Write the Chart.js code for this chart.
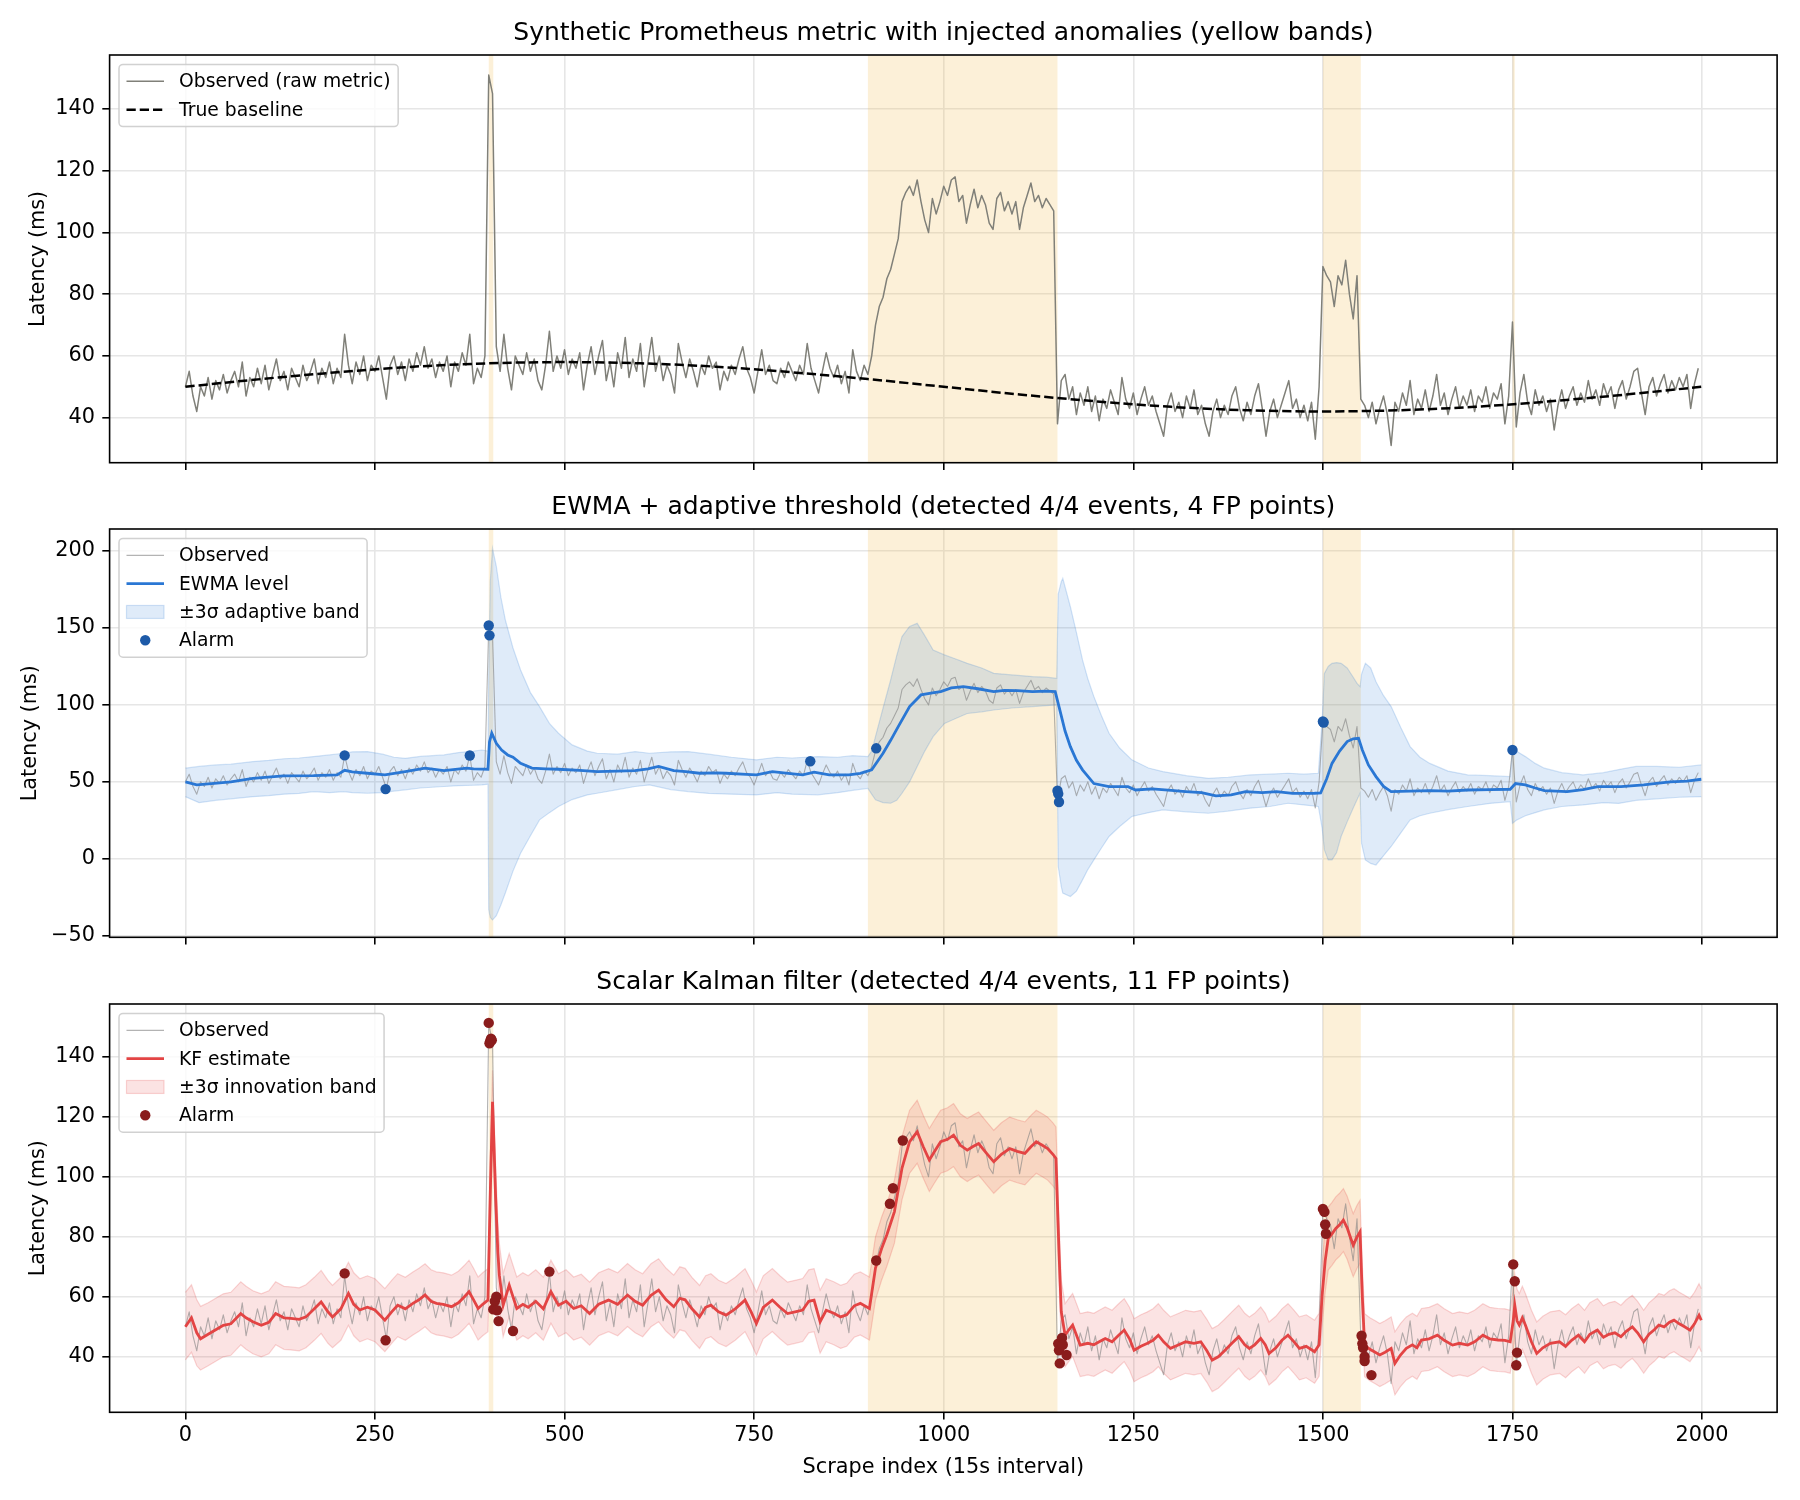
<!DOCTYPE html>
<html>
<head>
<meta charset="utf-8">
<title>Prometheus metric anomaly detection</title>
<script src="https://cdn.jsdelivr.net/npm/chart.js@4.4.1/dist/chart.umd.min.js"></script>
<style>
  html, body { margin: 0; padding: 0; background: #fff; }
  #wrap { position: relative; width: 1800px; height: 1500px; }
  canvas { position: absolute; left: 0; }
</style>
</head>
<body>
<div id="wrap">
  <canvas id="rawChart" width="1800" height="475" style="top:0px"></canvas>
  <canvas id="ewmaChart" width="1800" height="475" style="top:475px"></canvas>
  <canvas id="kfChart" width="1800" height="550" style="top:950px"></canvas>
</div>
<script>
const FONT = '"DejaVu Sans", "Liberation Sans", sans-serif';

// Axis ticks
const xTicks = [0, 250, 500, 750, 1000, 1250, 1500, 1750, 2000];
const rawTicks = [40, 60, 80, 100, 120, 140];
const ewmaTicks = [-50, 0, 50, 100, 150, 200];
const kfTicks = [40, 60, 80, 100, 120, 140];

// Injected anomaly windows (scrape index start, end)
const anomalyWindows = [[400, 406], [900, 1150], [1500, 1550], [1750, 1753]];

// Observed latency, one value every OBS_STEP scrapes
const OBS_STEP = 5;
const observed = [
    50, 55, 47, 42, 50, 47, 53, 46, 52, 49,
    54, 48, 52, 55, 50, 58, 47, 53, 50, 56,
    51, 57, 49, 54, 59, 52, 55, 49, 56, 53,
    50, 57, 52, 55, 59, 51, 56, 53, 58, 51,
    56, 53, 67, 57, 51, 58, 54, 60, 52, 57,
    55, 60, 53, 46, 57, 60, 54, 58, 52, 59,
    55, 61, 57, 63, 56, 59, 53, 58, 55, 60,
    50, 58, 55, 61, 57, 67, 51, 56, 53, 60,
    151, 145, 63, 55, 67, 56, 49, 60, 57, 54,
    61, 55, 59, 52, 49, 57, 68, 55, 60, 56,
    62, 54, 59, 56, 61, 49, 57, 63, 54, 60,
    65, 52, 58, 50, 61, 56, 66, 53, 59, 55,
    64, 50, 58, 66, 55, 60, 52, 57, 54, 48,
    64, 58, 53, 59, 55, 50, 57, 54, 60, 56,
    58, 49, 55, 52, 57, 54, 59, 63, 56, 53,
    48, 55, 62, 54, 57, 52, 51, 56, 53, 58,
    55, 52, 57, 54, 64, 56, 52, 48, 55, 61,
    56, 53, 57, 51, 55, 48, 62, 55, 52, 57,
    54, 60, 70, 76, 79, 85, 88, 93, 98, 110,
    113, 115, 112, 117, 110, 104, 100, 111, 106, 110,
    115, 112, 117, 118, 110, 112, 103, 109, 114, 108,
    112, 109, 103, 101, 111, 113, 107, 110, 106, 110,
    101, 108, 112, 116, 110, 112, 108, 111, 109, 107,
    38, 52, 54, 46, 50, 41, 48, 44, 50, 42,
    47, 39, 46, 43, 49, 45, 41, 53, 46, 43,
    48, 41, 46, 50, 44, 47, 42, 38, 34, 44,
    48, 42, 45, 40, 47, 43, 49, 41, 44, 38,
    34, 42, 46, 40, 44, 41, 47, 50, 43, 39,
    45, 41, 47, 51, 43, 34, 42, 46, 40, 44,
    48, 52, 43, 46, 40, 44, 39, 45, 33, 50,
    89, 86, 84, 76, 86, 83, 91, 80, 72, 86,
    46, 44, 40, 45, 38, 43, 47, 41, 31, 45,
    42, 48, 44, 52, 41, 46, 43, 49, 42, 47,
    54, 44, 48, 41, 46, 50, 43, 47, 44, 49,
    42, 47, 45, 50, 43, 48, 46, 51, 38, 47,
    71, 37, 48, 54, 45, 41, 49, 44, 47, 42,
    46, 36, 44, 49, 43, 47, 50, 44, 48, 45,
    52, 46, 49, 44, 51, 47, 50, 43, 49, 52,
    46, 50, 55, 56, 48, 41, 50, 53, 47, 51,
    54, 48, 52, 49, 53, 50, 54, 43, 51, 56
];

// True baseline [index, ms]
const baseline = [
    [0, 50], [100, 52.5], [200, 54.7], [300, 56.5], [400, 57.6], [500, 58], [600, 57.6],
    [700, 56.5], [800, 54.7], [900, 52.5], [1000, 50], [1100, 47.5], [1200, 45.3],
    [1300, 43.5], [1400, 42.4], [1500, 42], [1600, 42.4], [1700, 43.5], [1800, 45.3],
    [1900, 47.5], [1999, 50]
];

// EWMA level [index, ms]
const ewmaLevel = [
    [0, 50], [15, 48], [38, 49], [60, 50], [89, 52.3], [129, 53.9], [169, 54], [200, 54.5],
    [210, 57.5], [220, 56.5], [240, 55.6], [263, 54.5], [290, 56.7], [316, 58.9], [341, 57.3],
    [371, 58.9], [380, 58.5], [399, 58.2], [401, 76], [404, 81.6], [410, 75], [417, 70.7],
    [425, 67.5], [432, 66], [442, 62], [457, 58.9], [475, 58.5], [492, 58.2], [520, 57.5],
    [543, 56.7], [570, 57], [593, 57.3], [610, 58.5], [624, 60], [644, 57.3], [660, 56.7],
    [678, 55.6], [700, 55.8], [713, 55.6], [740, 54.8], [753, 54.5], [774, 56.7], [795, 55.5],
    [814, 54.5], [829, 56.3], [849, 54.5], [875, 54.5], [890, 55.5], [905, 57.8], [920, 68.6],
    [930, 77], [940, 85.9], [955, 98.9], [970, 106.5], [985, 107.8], [996, 108.6], [1010, 111],
    [1026, 111.9], [1045, 110.5], [1066, 108.6], [1080, 109.5], [1097, 109.3], [1117, 108.6],
    [1135, 109], [1147, 108.6], [1152, 98.9], [1160, 83], [1167, 72.9], [1175, 64], [1183, 57.8],
    [1198, 48.9], [1218, 46.9], [1243, 46.9], [1253, 44.7], [1275, 45.5], [1300, 44.5],
    [1319, 43.7], [1340, 43], [1359, 40.9], [1379, 41.5], [1398, 43.7], [1420, 43], [1439, 43.7],
    [1460, 42.5], [1489, 42.6], [1497, 42.8], [1505, 52], [1512, 62], [1522, 70], [1532, 76.2],
    [1540, 78], [1547, 78.3], [1552, 70.7], [1560, 61], [1570, 53.4], [1580, 47], [1590, 43.7],
    [1615, 44], [1641, 44.3], [1665, 44], [1691, 44.7], [1720, 45], [1747, 45.2], [1754, 48.9],
    [1767, 48], [1780, 46], [1792, 44.3], [1822, 43.7], [1843, 45], [1863, 46.9], [1893, 46.9],
    [1923, 48], [1940, 49], [1958, 50], [1980, 50.5], [1999, 51.7]
];

// EWMA adaptive band [index, lower, upper]
const ewmaBand = [
    [0, 40.4, 58.9], [18, 36.5, 60], [40, 38, 61], [60, 39, 61.5], [89, 40.4, 63.2], [110, 41, 64],
    [130, 42, 65], [150, 42.5, 65.5], [169, 43.7, 66.4], [190, 43, 67.5], [209, 43.7, 68.6],
    [220, 43, 69.5], [240, 42.6, 69.7], [260, 43, 68], [275, 44, 66], [290, 44.8, 65.3],
    [310, 46, 66.5], [341, 47, 67.5], [360, 47.5, 69], [380, 47.8, 70], [391, 48, 70.7],
    [399, 48.5, 70], [400, -33, 120], [402, -38, 180], [405, -39.7, 201.7], [410, -37, 190],
    [416, -30, 170], [422, -22, 155], [432, -8, 137], [442, 3.6, 122.7], [455, 15, 108],
    [467, 25.3, 98.9], [480, 30, 88], [492, 34, 81.6], [510, 38.5, 74], [530, 41.5, 70],
    [543, 42.6, 68.6], [570, 45, 68], [593, 47, 69.7], [612, 48, 68.6], [640, 45, 69.5],
    [663, 43.7, 69.7], [690, 42.5, 68], [720, 42, 66], [753, 41.5, 64.3], [780, 43, 66],
    [800, 42, 65.5], [834, 41.6, 66.4], [860, 43, 66], [880, 44.5, 67], [900, 45.8, 66.4],
    [905, 42, 70], [910, 38.3, 79.4], [920, 36.5, 98], [930, 36.1, 116.2], [938, 38, 132],
    [945, 42.6, 144.4], [955, 50, 151], [965, 60, 153], [975, 70, 145], [986, 79.4, 135.7],
    [1001, 88, 132.5], [1015, 91, 130], [1031, 94.4, 127], [1050, 95.5, 124], [1066, 96.7, 120.5],
    [1090, 98, 119.5], [1117, 98.9, 118.4], [1135, 99.5, 118], [1149, 100, 117.3],
    [1151, -5, 172], [1155, -18, 180], [1157, -22.3, 182.2], [1167, -24.5, 163.8],
    [1175, -21, 147], [1183, -13.7, 129.2], [1190, -7, 117], [1198, -0.7, 105.4], [1208, 7, 93],
    [1218, 14.5, 81.6], [1232, 21, 72], [1248, 27.5, 64.3], [1270, 30, 59], [1289, 31.8, 56.7],
    [1320, 30.5, 54], [1349, 29.6, 52.3], [1375, 31, 53], [1404, 32.9, 54.5], [1430, 34, 55],
    [1454, 36.1, 55.6], [1475, 35, 55], [1494, 34, 55.6], [1499, 20, 90], [1502, 5.8, 120.5],
    [1507, -0.7, 125], [1512, -0.7, 127], [1518, 4, 127.5], [1524, 14.5, 127], [1532, 24, 124],
    [1540, 33, 118], [1545, 38.3, 114], [1549, 42.6, 111.9], [1551, 10, 120], [1556, -0.7, 127],
    [1563, -3, 124], [1570, -4, 115], [1580, 2, 106], [1590, 8, 98.9], [1603, 17, 85],
    [1615, 25.3, 72.9], [1628, 28, 66], [1641, 29.6, 62], [1665, 32, 57], [1691, 34, 54.5],
    [1720, 36, 54], [1747, 37.2, 53.4], [1750, 23.1, 70.7], [1755, 25, 70], [1767, 28, 66.4],
    [1780, 30, 62], [1792, 31.8, 58.9], [1815, 34, 56], [1843, 35, 54.5], [1870, 36.5, 56],
    [1890, 36, 58], [1913, 38, 60], [1940, 39, 60], [1970, 40, 59.5], [1999, 40.4, 61]
];

const ewmaAlarms = [
    [210, 67.2], [264, 45.3], [375, 67.1], [400, 151.6], [401, 145.2], [824, 63.4], [911, 71.8],
    [1150, 44.3], [1151, 42.2], [1152, 36.9], [1500, 89.2], [1501, 88.6], [1750, 70.7]
];

// Kalman filter estimate [index, ms]
const kfEstimate = [
    [0, 50], [8, 53], [15, 48], [20, 46], [30, 47.5], [40, 49], [50, 50.5], [60, 51], [73, 54.4],
    [80, 53], [89, 51.7], [100, 50.5], [110, 51.5], [119, 54.4], [130, 53], [139, 52.8], [150, 52.5],
    [159, 53.3], [170, 56], [179, 58.3], [188, 55], [194, 53.3], [205, 56], [215, 61.1], [222, 57.5],
    [230, 55.6], [240, 56.5], [250, 55.6], [263, 52.2], [272, 55], [280, 57.2], [290, 56],
    [300, 57.8], [308, 59], [316, 60.6], [324, 58.5], [331, 57.8], [340, 57.5], [351, 56.7],
    [360, 58], [368, 60], [374, 61.7], [380, 59], [386, 56.1], [392, 57.5], [399, 58.9],
    [402, 93.9], [405, 125], [407, 110], [409, 93.9], [412, 75], [414, 67.2], [419, 57.2],
    [427, 63.9], [437, 56.1], [445, 57.5], [452, 56.5], [462, 58.5], [472, 56], [482, 61.7],
    [492, 57.2], [502, 58.5], [512, 56.1], [522, 57], [533, 54.4], [545, 57.5], [558, 58.9],
    [570, 57.5], [583, 60.6], [593, 58.5], [603, 57.2], [614, 60.5], [624, 62.2], [634, 59],
    [644, 56.7], [652, 59.5], [659, 59], [668, 56], [678, 53.3], [686, 56.5], [693, 57.2],
    [703, 55], [713, 53.9], [725, 56], [738, 58.9], [746, 55], [753, 51.1], [762, 56.5],
    [774, 58.9], [784, 56.5], [794, 54.4], [804, 55], [814, 55.6], [822, 58.5], [829, 58.9],
    [837, 51.7], [845, 55.5], [855, 54.5], [864, 53.3], [872, 54], [882, 57], [890, 57.8],
    [902, 56.1], [910, 69.6], [918, 76], [925, 80.7], [935, 88.4], [945, 102.9], [955, 111.7],
    [965, 115], [973, 110], [981, 105.6], [988, 108.5], [996, 111.7], [1005, 112.5], [1013, 113.9],
    [1022, 110.5], [1031, 108.9], [1038, 110], [1046, 111.1], [1056, 108], [1066, 105],
    [1076, 107.5], [1087, 109.4], [1097, 108.5], [1107, 107.8], [1115, 110], [1122, 111.7],
    [1130, 110.5], [1137, 109.4], [1144, 107.5], [1148, 106.1], [1152, 75], [1155, 55],
    [1160, 47.2], [1165, 49], [1170, 50.6], [1180, 43.9], [1190, 44.5], [1198, 44], [1205, 45],
    [1213, 46.1], [1222, 45], [1230, 47], [1238, 48.9], [1245, 46], [1251, 42.2], [1260, 43.5],
    [1268, 44.4], [1276, 45.5], [1283, 47.2], [1290, 45], [1299, 42.8], [1310, 44], [1319, 45],
    [1330, 44.5], [1339, 45], [1347, 42], [1354, 38.9], [1362, 40], [1369, 41.7], [1380, 44.5],
    [1389, 46.7], [1397, 44], [1403, 42.8], [1410, 44], [1418, 46.1], [1424, 44], [1429, 41.1],
    [1438, 43], [1446, 45.5], [1454, 47.2], [1462, 45], [1469, 42.8], [1478, 43.5], [1489, 41.7],
    [1495, 44], [1499, 60.6], [1503, 72], [1507, 79.4], [1512, 81], [1517, 82.8], [1522, 84],
    [1527, 85.6], [1532, 83], [1536, 80], [1540, 77.2], [1545, 80], [1549, 81.7], [1552, 60],
    [1555, 43.9], [1562, 42.5], [1569, 41.5], [1575, 40.6], [1582, 41.5], [1590, 42.8],
    [1595, 37.8], [1602, 40.5], [1610, 42.8], [1618, 44], [1624, 43], [1630, 45.6], [1640, 46],
    [1651, 47.2], [1660, 45.5], [1671, 43.9], [1680, 44.5], [1691, 43.9], [1700, 45], [1711, 47.2],
    [1720, 46], [1731, 45.6], [1740, 45.5], [1747, 45], [1751, 52], [1753, 57.2], [1756, 52],
    [1759, 50.6], [1763, 53], [1767, 50.6], [1775, 45], [1782, 41.1], [1790, 43], [1800, 44.5],
    [1812, 45], [1820, 43.5], [1828, 45.5], [1837, 47.2], [1845, 45], [1852, 47.5], [1862, 48.9],
    [1870, 46.5], [1877, 47.5], [1885, 48], [1893, 46.7], [1900, 48.5], [1908, 50], [1915, 48],
    [1923, 45], [1930, 47.5], [1937, 49], [1943, 50.6], [1950, 50], [1957, 51.5], [1963, 52.2],
    [1970, 51], [1977, 50], [1984, 48.9], [1990, 51], [1996, 53.9], [1999, 52.2]
];

// Kalman innovation band [index, lower, upper]
const kfBand = [
    [0, 39, 61.5], [8, 41.5, 64], [15, 37, 59], [20, 35.6, 56.8], [30, 37, 58], [40, 38.5, 59.5],
    [50, 40, 61], [60, 40.5, 61.5], [73, 44, 65], [80, 42.5, 63.5], [89, 41, 62], [100, 40, 61],
    [110, 41, 62], [119, 44, 65], [130, 42.5, 63.5], [139, 42.3, 63.3], [150, 42, 63], [159, 43, 64],
    [170, 45.5, 66.5], [179, 47.8, 68.8], [188, 44.5, 65.5], [194, 43, 63.8], [205, 45.5, 66.5],
    [215, 50.5, 71.5], [222, 47, 68], [230, 45, 66], [240, 46, 67], [250, 45, 66], [263, 41.7, 62.7],
    [272, 44.5, 65.5], [280, 46.7, 67.7], [290, 45.5, 66.5], [300, 47.3, 68.3], [308, 48.5, 69.5],
    [316, 50, 71], [324, 48, 69], [331, 47.3, 68.3], [340, 47, 68], [351, 46.2, 67.2], [360, 47.5, 68.5],
    [368, 49.5, 70.5], [374, 51.2, 72.2], [380, 48.5, 69.5], [386, 45.6, 66.6], [392, 47, 68],
    [399, 48.4, 69.4], [402, 83, 104.5], [405, 114.5, 135.5], [407, 99.5, 120.5], [409, 83.4, 104.4],
    [412, 64.5, 85.5], [414, 56.7, 77.7], [419, 46.7, 67.7], [427, 53.4, 74.4], [437, 45.6, 66.6],
    [445, 47, 68], [452, 46, 67], [462, 48, 69], [472, 45.5, 66.5], [482, 51.2, 72.2], [492, 46.7, 67.7],
    [502, 48, 69], [512, 45.6, 66.6], [522, 46.5, 67.5], [533, 43.9, 64.9], [545, 47, 68],
    [558, 48.4, 69.4], [570, 47, 68], [583, 50.1, 71.1], [593, 48, 69], [603, 46.7, 67.7],
    [614, 50, 71], [624, 51.7, 72.7], [634, 48.5, 69.5], [644, 46.2, 67.2], [652, 49, 70],
    [659, 48.5, 69.5], [668, 45.5, 66.5], [678, 42.8, 63.8], [686, 46, 67], [693, 46.7, 67.7],
    [703, 44.5, 65.5], [713, 43.4, 64.4], [725, 45.5, 66.5], [738, 48.4, 69.4], [746, 44.5, 65.5],
    [753, 40.6, 61.6], [762, 46, 67], [774, 48.4, 69.4], [784, 46, 67], [794, 43.9, 64.9],
    [804, 44.5, 65.5], [814, 45.1, 66.1], [822, 48, 69], [829, 48.4, 69.4], [837, 41.2, 62.2],
    [845, 45, 66], [855, 44, 65], [864, 42.8, 63.8], [872, 43.5, 64.5], [882, 46.5, 67.5],
    [890, 47.3, 68.3], [902, 45.6, 66.6], [910, 59, 80], [918, 65.5, 86.5], [925, 70.2, 91.2],
    [935, 77.9, 98.9], [945, 92.4, 113.4], [955, 101.2, 122.2], [965, 104.5, 125.5], [973, 99.5, 120.5],
    [981, 95.1, 116.1], [988, 98, 119], [996, 101.2, 122.2], [1005, 102, 123], [1013, 103.4, 124.4],
    [1022, 100, 121], [1031, 98.4, 119.4], [1038, 99.5, 120.5], [1046, 100.6, 121.6], [1056, 97.5, 118.5],
    [1066, 94.5, 115.5], [1076, 97, 118], [1087, 98.9, 119.9], [1097, 98, 119], [1107, 97.3, 118.3],
    [1115, 99.5, 120.5], [1122, 101.2, 122.2], [1130, 100, 121], [1137, 98.9, 119.9], [1144, 97, 118],
    [1148, 95.6, 116.6], [1152, 64.5, 85.5], [1155, 44.5, 65.5], [1160, 36.7, 57.7], [1165, 38.5, 59.5],
    [1170, 40.1, 61.1], [1180, 33.4, 54.4], [1190, 34, 55], [1198, 33.5, 54.5], [1205, 34.5, 55.5],
    [1213, 35.6, 56.6], [1222, 34.5, 55.5], [1230, 36.5, 57.5], [1238, 38.4, 59.4], [1245, 35.5, 56.5],
    [1251, 31.7, 52.7], [1260, 33, 54], [1268, 33.9, 54.9], [1276, 35, 56], [1283, 36.7, 57.7],
    [1290, 34.5, 55.5], [1299, 32.3, 53.3], [1310, 33.5, 54.5], [1319, 34.5, 55.5], [1330, 34, 55],
    [1339, 34.5, 55.5], [1347, 31.5, 52.5], [1354, 28.4, 49.4], [1362, 29.5, 50.5], [1369, 31.2, 52.2],
    [1380, 34, 55], [1389, 36.2, 57.2], [1397, 33.5, 54.5], [1403, 32.3, 53.3], [1410, 33.5, 54.5],
    [1418, 35.6, 56.6], [1424, 33.5, 54.5], [1429, 30.6, 51.6], [1438, 32.5, 53.5], [1446, 35, 56],
    [1454, 36.7, 57.7], [1462, 34.5, 55.5], [1469, 32.3, 53.3], [1478, 33, 54], [1489, 31.2, 52.2],
    [1495, 33.5, 54.5], [1499, 50, 71], [1503, 61.5, 82.5], [1507, 68.9, 89.9], [1512, 70.5, 91.5],
    [1517, 72.3, 93.3], [1522, 73.5, 94.5], [1527, 75.1, 96.1], [1532, 72.5, 93.5], [1536, 69.5, 90.5],
    [1540, 66.7, 87.7], [1545, 69.5, 90.5], [1549, 71.2, 92.2], [1552, 49.5, 70.5], [1555, 33.4, 54.4],
    [1562, 32, 53], [1569, 31, 52], [1575, 30.1, 51.1], [1582, 31, 52], [1590, 32.3, 53.3],
    [1595, 27.3, 48.3], [1602, 30, 51], [1610, 32.3, 53.3], [1618, 33.5, 54.5], [1624, 32.5, 53.5],
    [1630, 35.1, 56.1], [1640, 35.5, 56.5], [1651, 36.7, 57.7], [1660, 35, 56], [1671, 33.4, 54.4],
    [1680, 34, 55], [1691, 33.4, 54.4], [1700, 34.5, 55.5], [1711, 36.7, 57.7], [1720, 35.5, 56.5],
    [1731, 35.1, 56.1], [1740, 35, 56], [1747, 34.5, 55.5], [1751, 41.5, 62.5], [1753, 46.7, 67.7],
    [1756, 41.5, 62.5], [1759, 40.1, 61.1], [1763, 42.5, 63.5], [1767, 40.1, 61.1], [1775, 34.5, 55.5],
    [1782, 30.6, 51.6], [1790, 32.5, 53.5], [1800, 34, 55], [1812, 34.5, 55.5], [1820, 33, 54],
    [1828, 35, 56], [1837, 36.7, 57.7], [1845, 34.5, 55.5], [1852, 37, 58], [1862, 38.4, 59.4],
    [1870, 36, 57], [1877, 37, 58], [1885, 37.5, 58.5], [1893, 36.2, 57.2], [1900, 38, 59],
    [1908, 39.5, 60.5], [1915, 37.5, 58.5], [1923, 34.5, 55.5], [1930, 37, 58], [1937, 38.5, 59.5],
    [1943, 40.1, 61.1], [1950, 39.5, 60.5], [1957, 41, 62], [1963, 41.7, 62.7], [1970, 40.5, 61.5],
    [1977, 39.5, 60.5], [1984, 38.4, 59.4], [1990, 40.5, 61.5], [1996, 43.4, 64.4], [1999, 41.7, 62.7]
];

const kfAlarms = [
    [210, 67.8], [264, 45.5], [400, 151.3], [401, 144.5], [402, 145.3], [403, 146], [404, 145.5],
    [406, 55.8], [408, 58.5], [410, 60], [411, 55.5], [413, 51.9], [432, 48.6], [480, 68.4],
    [911, 72.1], [929, 91], [933, 96.2], [946, 112.1], [1151, 44.4], [1152, 42.2], [1153, 37.8],
    [1156, 46.3], [1157, 44], [1162, 40.6], [1500, 89.3], [1502, 88.3], [1503, 84.1], [1504, 81],
    [1551, 47], [1552, 44.4], [1553, 43], [1555, 40], [1555, 38.6], [1564, 33.9], [1751, 70.8],
    [1753, 65.2], [1755, 37.2], [1756, 41.4]
];

// helpers to turn the arrays into Chart.js points
const obsPoints = observed.map((v, i) => ({ x: i * OBS_STEP, y: v }));
const pairs = arr => arr.map(([x, y]) => ({ x, y }));
const bandSide = (arr, k) => arr.map(r => ({ x: r[0], y: r[k] }));

// yellow anomaly windows, behind the data
const anomalyShading = {
    id: 'anomalyShading',
    beforeDatasetsDraw(chart) {
        const { ctx, chartArea: a, scales: { x } } = chart;
        ctx.save();
        ctx.fillStyle = 'rgba(240, 180, 60, 0.2)';
        anomalyWindows.forEach(([s, e]) => {
            const x0 = x.getPixelForValue(s);
            const x1 = x.getPixelForValue(e);
            ctx.fillRect(x0, a.top, x1 - x0, a.bottom - a.top);
        });
        ctx.restore();
    }
};

// matplotlib-like legend box in the upper left of the plot area
const boxLegend = {
    id: 'boxLegend',
    afterDatasetsDraw(chart) {
        const { ctx, chartArea: a } = chart;
        const fs = 18.75, pad = 7.5, handle = 37.5, gap = 15, rowH = 18.9, rowGap = 9.4;
        const items = chart.data.datasets.filter(d => d.legend);
        ctx.save();
        ctx.font = fs + 'px ' + FONT;
        const textW = Math.max(...items.map(d => ctx.measureText(d.label).width));
        const x0 = a.left + 9.4, y0 = a.top + 9.4;
        const w = pad + handle + gap + textW + pad;
        const h = pad * 2 + items.length * rowH + (items.length - 1) * rowGap;
        ctx.beginPath();
        ctx.roundRect(x0, y0, w, h, 4);
        ctx.fillStyle = 'rgba(255,255,255,0.8)';
        ctx.fill();
        ctx.strokeStyle = 'rgba(204,204,204,0.9)';
        ctx.lineWidth = 1.5;
        ctx.stroke();
        items.forEach((d, i) => {
            const cy = y0 + pad + rowH / 2 + i * (rowH + rowGap);
            const hx = x0 + pad;
            if (d.legend === 'line') {
                ctx.beginPath();
                ctx.setLineDash(d.borderDash || []);
                ctx.strokeStyle = d.borderColor;
                ctx.lineWidth = d.borderWidth;
                ctx.moveTo(hx, cy);
                ctx.lineTo(hx + handle, cy);
                ctx.stroke();
                ctx.setLineDash([]);
            } else if (d.legend === 'patch') {
                ctx.fillStyle = d.backgroundColor;
                ctx.fillRect(hx, cy - 6.5, handle, 13);
                ctx.strokeStyle = d.borderColor;
                ctx.lineWidth = 1.2;
                ctx.strokeRect(hx, cy - 6.5, handle, 13);
            } else {
                ctx.beginPath();
                ctx.arc(hx + handle / 2, cy, d.pointRadius, 0, Math.PI * 2);
                ctx.fillStyle = d.pointBackgroundColor;
                ctx.fill();
            }
            ctx.fillStyle = '#000';
            ctx.textAlign = 'left';
            ctx.textBaseline = 'middle';
            ctx.fillText(d.label, hx + handle + gap, cy + 1);
        });
        ctx.restore();
    }
};

// four spines around the plot area
const axesFrame = {
    id: 'axesFrame',
    afterDraw(chart) {
        const { ctx, chartArea: a } = chart;
        ctx.save();
        ctx.strokeStyle = '#000';
        ctx.lineWidth = 1.6;
        ctx.strokeRect(a.left, a.top, a.right - a.left, a.bottom - a.top);
        ctx.restore();
    }
};

function buildPanel(canvasId, p) {
    const tickFont = { family: FONT, size: 20.8 };
    const grid = { color: '#e6e6e6', lineWidth: 1.6, tickColor: '#000', tickLength: 7.3, tickWidth: 1.6 };
    return new Chart(document.getElementById(canvasId), {
        type: 'line',
        data: { datasets: p.datasets },
        options: {
            responsive: false,
            animation: false,
            devicePixelRatio: 1,
            events: [],
            layout: { padding: { left: 0, right: 22.9, top: 0, bottom: 0 } },
            plugins: {
                legend: { display: false },
                tooltip: { enabled: false },
                title: {
                    display: true,
                    fullSize: false,
                    text: p.title,
                    color: '#000',
                    font: { family: FONT, size: 25, weight: 'normal' },
                    padding: { top: p.titleTop, bottom: 6.15 }
                }
            },
            scales: {
                x: {
                    type: 'linear',
                    min: -99.95,
                    max: 2098.95,
                    afterBuildTicks: s => { s.ticks = xTicks.map(v => ({ value: v })); },
                    afterFit: s => {
                        s.height = p.xHeight;
                        s.paddingLeft = 0;
                        s.paddingRight = 0;
                    },
                    grid: grid,
                    border: { display: false },
                    ticks: {
                        display: p.showX,
                        color: '#000',
                        font: tickFont,
                        padding: 3.4,
                        maxRotation: 0,
                        callback: v => String(v)
                    },
                    title: {
                        display: p.showX,
                        text: 'Scrape index (15s interval)',
                        color: '#000',
                        font: tickFont,
                        padding: { top: 0, bottom: 19.7 }
                    }
                },
                y: {
                    type: 'linear',
                    min: p.yMin,
                    max: p.yMax,
                    afterBuildTicks: s => { s.ticks = p.yTicks.map(v => ({ value: v })); },
                    afterFit: s => {
                        s.width = 109.6;
                        s.paddingTop = 0;
                        s.paddingBottom = 0;
                    },
                    grid: grid,
                    border: { display: false },
                    ticks: {
                        color: '#000',
                        font: tickFont,
                        padding: 7.3,
                        callback: v => String(v).replace('-', '\u2212')
                    },
                    title: {
                        display: true,
                        text: 'Latency (ms)',
                        color: '#000',
                        font: tickFont,
                        padding: { top: p.yTitlePad, bottom: 0 }
                    }
                }
            }
        },
        plugins: [anomalyShading, boxLegend, axesFrame]
    });
}

const obsFaint = {
    label: 'Observed', legend: 'line', data: obsPoints,
    borderColor: 'rgba(128,128,128,0.6)', borderWidth: 1.1, borderJoinStyle: 'round',
    pointRadius: 0, order: 3
};

buildPanel('rawChart', {
    title: 'Synthetic Prometheus metric with injected anomalies (yellow bands)',
    titleTop: 18.85, xHeight: 12.3, showX: false,
    yMin: 25.4, yMax: 157.5, yTicks: rawTicks, yTitlePad: 25.8,
    datasets: [
        {
            label: 'Observed (raw metric)', legend: 'line', data: obsPoints,
            borderColor: '#808079', borderWidth: 1.5, borderJoinStyle: 'round',
            pointRadius: 0, order: 2
        },
        {
            label: 'True baseline', legend: 'line', data: pairs(baseline),
            borderColor: '#000', borderWidth: 2.5, borderDash: [9.25, 4],
            cubicInterpolationMode: 'monotone', pointRadius: 0, order: 1
        }
    ]
});

buildPanel('ewmaChart', {
    title: 'EWMA + adaptive threshold (detected 4/4 events, 4 FP points)',
    titleTop: 17.85, xHeight: 12.7, showX: false,
    yMin: -51.0, yMax: 214.3, yTicks: ewmaTicks, yTitlePad: 18.1,
    datasets: [
        obsFaint,
        {
            label: 'EWMA level', legend: 'line', data: pairs(ewmaLevel),
            borderColor: '#2a77d4', borderWidth: 2.8, pointRadius: 0, order: 2
        },
        {
            label: '', data: bandSide(ewmaBand, 1),
            borderColor: 'rgba(42,119,212,0.2)', borderWidth: 1.2, pointRadius: 0, fill: false, order: 5
        },
        {
            label: '\u00b13\u03c3 adaptive band', legend: 'patch', data: bandSide(ewmaBand, 2),
            borderColor: 'rgba(42,119,212,0.2)', backgroundColor: 'rgba(42,119,212,0.15)',
            borderWidth: 1.2, pointRadius: 0, fill: '-1', order: 4
        },
        {
            type: 'scatter', label: 'Alarm', legend: 'marker', data: pairs(ewmaAlarms),
            pointRadius: 5.2, pointBackgroundColor: '#1d5aa8', pointBorderWidth: 0,
            showLine: false, order: 1
        }
    ]
});

buildPanel('kfChart', {
    title: 'Scalar Kalman filter (detected 4/4 events, 11 FP points)',
    titleTop: 17.85, xHeight: 87.7, showX: true,
    yMin: 21.5, yMax: 157.6, yTicks: kfTicks, yTitlePad: 25.8,
    datasets: [
        obsFaint,
        {
            label: 'KF estimate', legend: 'line', data: pairs(kfEstimate),
            borderColor: '#e34444', borderWidth: 2.8, pointRadius: 0, order: 2
        },
        {
            label: '', data: bandSide(kfBand, 1),
            borderColor: 'rgba(227,68,68,0.22)', borderWidth: 1.2, pointRadius: 0, fill: false, order: 5
        },
        {
            label: '\u00b13\u03c3 innovation band', legend: 'patch', data: bandSide(kfBand, 2),
            borderColor: 'rgba(227,68,68,0.22)', backgroundColor: 'rgba(227,68,68,0.15)',
            borderWidth: 1.2, pointRadius: 0, fill: '-1', order: 4
        },
        {
            type: 'scatter', label: 'Alarm', legend: 'marker', data: pairs(kfAlarms),
            pointRadius: 5.2, pointBackgroundColor: '#8a1c1c', pointBorderWidth: 0,
            showLine: false, order: 1
        }
    ]
});
</script>
</body>
</html>
